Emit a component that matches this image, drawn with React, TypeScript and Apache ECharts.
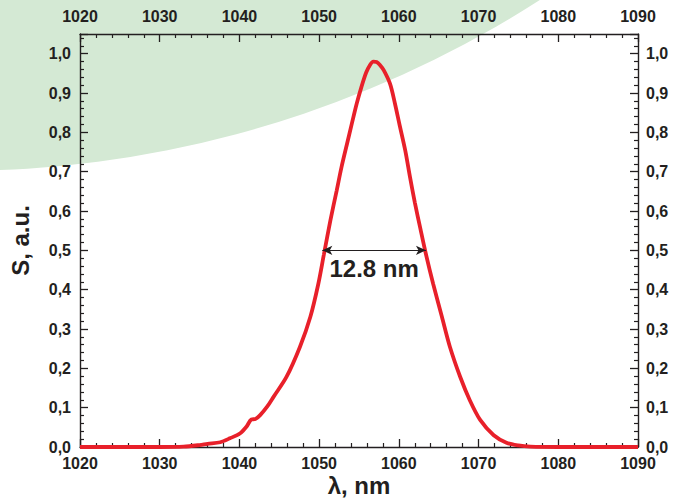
import React, { useEffect, useRef } from "react";
import * as echarts from "echarts";

const wavelength = [
  1020, 1025, 1030, 1033, 1035, 1036, 1037.6, 1038.8, 1040.1, 1040.9, 1041.5, 1042.0,
  1042.6, 1043.5, 1044.3, 1045.9, 1047.6, 1048.9, 1049.9, 1050.6, 1051.4, 1052.2,
  1052.8, 1053.5, 1054.1, 1054.7, 1055.3, 1055.9, 1056.4, 1056.8, 1057.2, 1057.6,
  1058.1, 1058.9, 1059.5, 1060.1, 1060.8, 1061.4, 1062.0, 1062.7, 1063.4,
  1064.3, 1065.4, 1066.4, 1067.7, 1068.9, 1070.2, 1071.9, 1073.5, 1075.0, 1076.5,
  1080, 1085, 1090,
];
const signal = [
  0, 0, 0, 0.001, 0.005, 0.008, 0.012, 0.022, 0.035, 0.052, 0.07, 0.071,
  0.081, 0.103, 0.128, 0.178, 0.255, 0.331, 0.415, 0.49, 0.575, 0.652,
  0.711, 0.771, 0.822, 0.872, 0.915, 0.952, 0.972, 0.98, 0.979, 0.972,
  0.958, 0.923, 0.874, 0.818, 0.754, 0.686, 0.622, 0.555, 0.49,
  0.415, 0.331, 0.255, 0.178, 0.119, 0.069, 0.03, 0.011, 0.004, 0.001,
  0, 0, 0,
];
const fwhmStart = [1050.4, 0.5];
const fwhmEnd = [1063.4, 0.5];
const fwhmLabel = "12.8 nm";
const xName = "λ, nm";
const yName = "S, a.u.";

const INK = "#231f20";
const FONT = "'Liberation Sans', Arial, sans-serif";

export default function App() {
  const ref = useRef<HTMLDivElement>(null);
  useEffect(() => {
    if (!ref.current) return;
    const chart = echarts.init(ref.current, null, { renderer: "svg" });
    const data = wavelength.map((w, i) => [w, signal[i]]);
    const xLabel = {
      color: INK,
      fontWeight: "bold" as const,
      fontSize: 16,
      fontFamily: FONT,
      margin: 9,
    };
    const yFmt = (v: number) =>
      Math.abs(v * 10 - Math.round(v * 10)) > 1e-6 ? "" : v.toFixed(1).replace(".", ",");
    const tick = { show: true, inside: true, length: 8, lineStyle: { color: INK, width: 1.3 } };
    const minor = { show: true, splitNumber: 5, length: 4, lineStyle: { color: INK, width: 1.2 } };
    const line = { show: true, onZero: false, lineStyle: { color: INK, width: 1.4 } };
    const xBase = {
      type: "value" as const,
      min: 1020,
      max: 1090,
      interval: 10,
      axisLine: line,
      axisTick: tick,
      minorTick: minor,
      splitLine: { show: false },
    };
    const yBase = {
      type: "value" as const,
      min: 0,
      max: 1.05,
      interval: 0.1,
      axisLine: line,
      axisTick: tick,
      minorTick: minor,
      splitLine: { show: false },
    };
    const nameStyle = { color: INK, fontWeight: "bold", fontSize: 24, fontFamily: FONT };
    chart.setOption({
      animation: false,
      graphic: [
        {
          type: "circle",
          z: -100,
          silent: true,
          shape: { cx: -43, cy: -908, r: 1079 },
          style: { fill: "#d4e9d4" },
        },
      ],
      grid: { left: 80, right: 44, top: 34, bottom: 54, containLabel: false, outerBoundsMode: "none" },
      xAxis: [
        {
          ...xBase,
          position: "bottom",
          axisLabel: { ...xLabel, margin: 8, formatter: (v: number) => String(v) },
          name: xName,
          nameLocation: "middle",
          nameGap: 26,
          nameMoveOverlap: false,
          nameTextStyle: nameStyle,
        },
        {
          ...xBase,
          position: "top",
          axisLabel: { ...xLabel, margin: 10, formatter: (v: number) => String(v) },
        },
      ],
      yAxis: [
        {
          ...yBase,
          position: "left",
          axisLabel: { ...xLabel, margin: 9, formatter: yFmt },
          name: yName,
          nameLocation: "middle",
          nameGap: 48,
          nameRotate: 90,
          nameMoveOverlap: false,
          nameTextStyle: nameStyle,
        },
        {
          ...yBase,
          position: "right",
          axisLabel: { ...xLabel, margin: 8, formatter: yFmt },
        },
      ],
      series: [
        {
          type: "line",
          xAxisIndex: 0,
          yAxisIndex: 0,
          data,
          showSymbol: false,
          smooth: 0.3,
          lineStyle: { color: "#e8202a", width: 3.8 },
          z: 3,
          markLine: {
            silent: true,
            symbol: ["arrow", "arrow"],
            symbolSize: [7, 10],
            lineStyle: { color: INK, width: 1, type: "solid" },
            label: {
              show: true,
              position: "insideMiddleBottom",
              distance: 6,
              formatter: fwhmLabel,
              color: INK,
              fontWeight: "bold",
              fontSize: 24,
              fontFamily: FONT,
            },
            data: [[{ coord: fwhmStart }, { coord: fwhmEnd }]],
          },
        },
      ],
    });
    return () => chart.dispose();
  }, []);
  return (
    <div
      ref={ref}
      style={{ position: "fixed", left: 0, top: 0, width: 682, height: 501, background: "#fff" }}
    />
  );
}
